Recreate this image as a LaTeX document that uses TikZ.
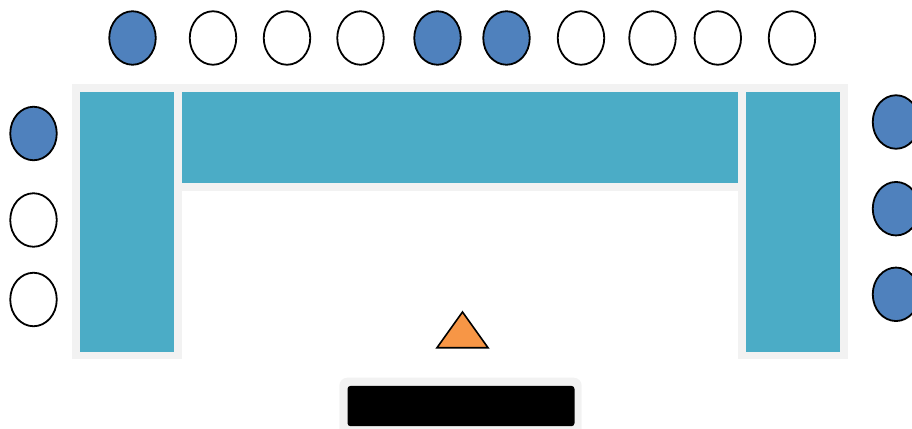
\documentclass[tikz,border=0pt]{standalone}
\usetikzlibrary{shapes.geometric}
\definecolor{seatblue}{HTML}{4F81BD}
\definecolor{tableteal}{HTML}{4BACC6}
\definecolor{backgray}{HTML}{F2F2F2}
\definecolor{triorange}{HTML}{F79646}
\tikzset{
  seat/.style={ellipse, draw=black, line width=1.8pt, minimum width=46.5pt, minimum height=53.5pt, inner sep=0pt},
  filled/.style={seat, fill=seatblue},
  empty/.style={seat, fill=white},
  tablebox/.style={fill=tableteal, draw=none, inner sep=0pt, anchor=north west},
}
\begin{document}
\begin{tikzpicture}[x=1pt,y=-1pt]
\useasboundingbox (0,0) rectangle (912,428);
% gray backdrops
\fill[backgray] (72,84) rectangle (182,359);
\fill[backgray] (174,84) rectangle (746,191);
\fill[backgray] (738,84) rectangle (848,359);
% tables
\node[tablebox, minimum width=94pt, minimum height=260pt] (tl) at (80,92) {};
\node[tablebox, minimum width=556pt, minimum height=91pt] (tt) at (182,92) {};
\node[tablebox, minimum width=94pt, minimum height=260pt] (tr) at (746,92) {};
% top seats
\node[filled] (s1) at (132.5,38) {};
\node[empty]  (s2) at (213,38) {};
\node[empty]  (s3) at (287,38) {};
\node[empty]  (s4) at (360.5,38) {};
\node[filled] (s5) at (437.5,38) {};
\node[filled] (s6) at (506.5,38) {};
\node[empty]  (s7) at (581,38) {};
\node[empty]  (s8) at (652.5,38) {};
\node[empty]  (s9) at (717.8,38) {};
\node[empty]  (s10) at (792,38) {};
% left seats
\node[filled] (l1) at (33.5,133.5) {};
\node[empty]  (l2) at (33.5,220) {};
\node[empty]  (l3) at (33.5,299.5) {};
% right seats
\node[filled] (r1) at (896,122) {};
\node[filled] (r2) at (896,208.7) {};
\node[filled] (r3) at (896,294.3) {};
% triangle
\coordinate (ta) at (462.5,312);
\coordinate (tb) at (437,347.7);
\coordinate (tc) at (488,347.7);
\draw[fill=triorange, line width=1.6pt, line join=miter] (ta) -- (tb) -- (tc) -- cycle;
% front desk
\fill[backgray, rounded corners=8pt] (339.3,377.7) rectangle (581.7,440);
\node[fill=black, rounded corners=3pt, minimum width=227pt, minimum height=40.3pt, inner sep=0pt, anchor=north west] (desk) at (347.3,385.7) {};
\end{tikzpicture}
\end{document}
